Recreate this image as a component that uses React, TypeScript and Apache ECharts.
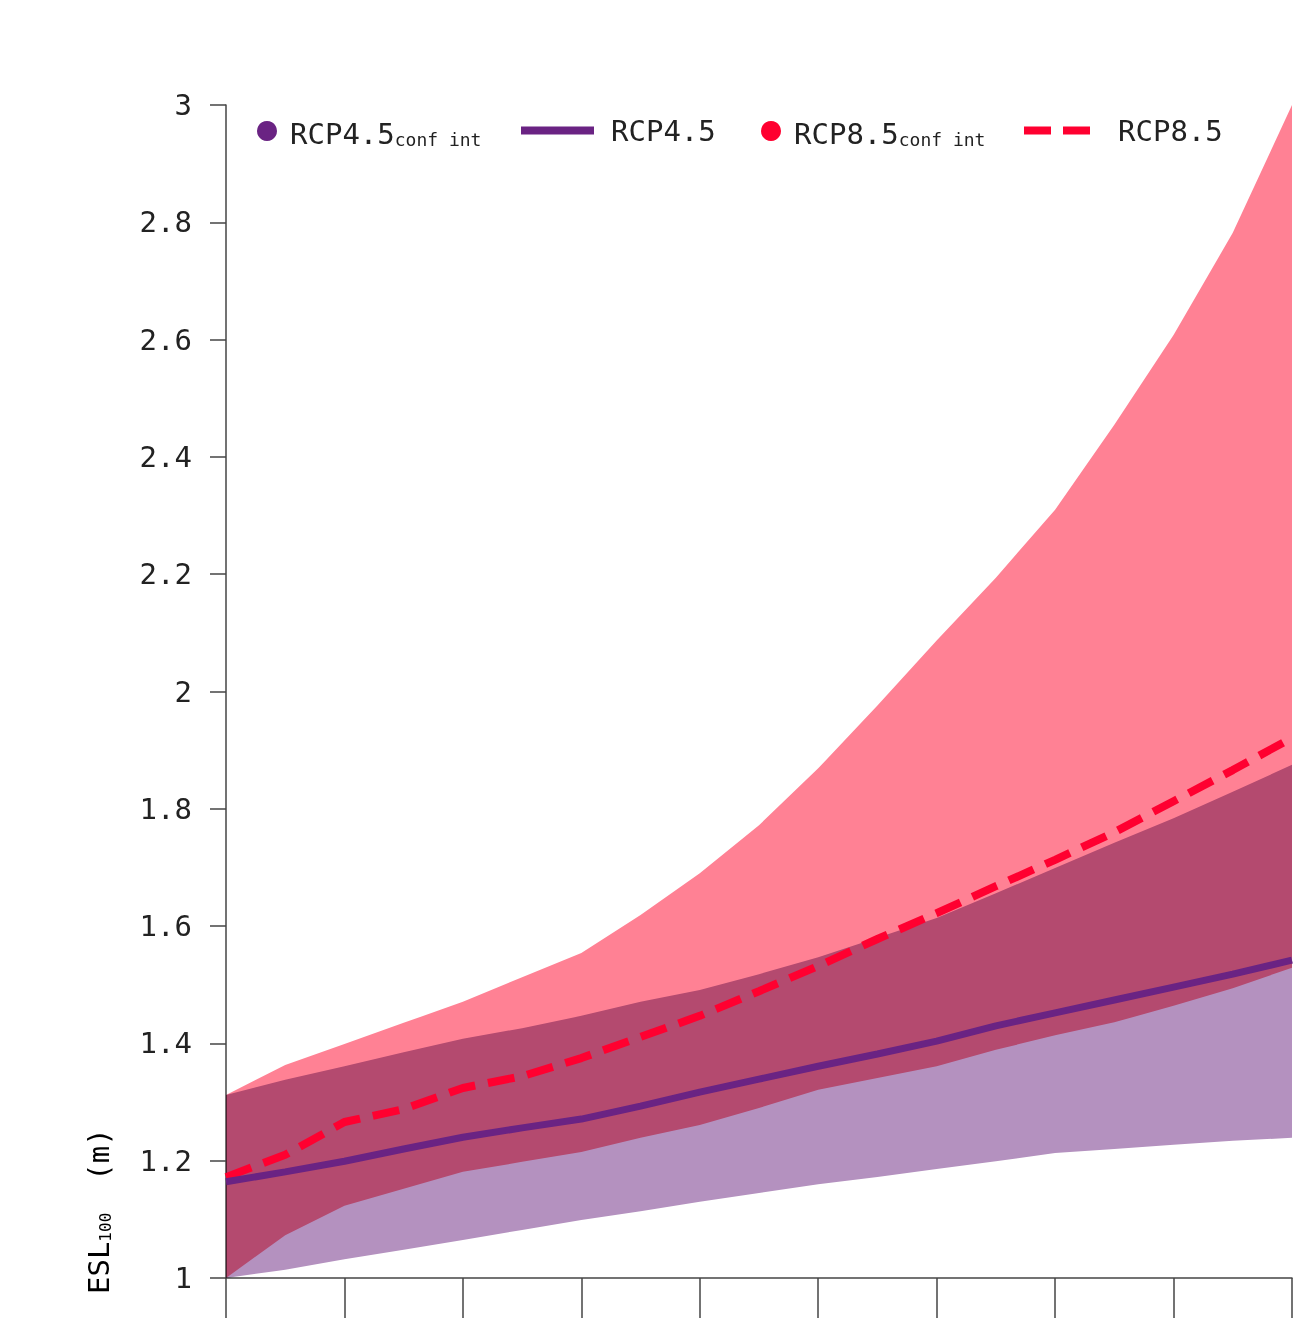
import React, { useEffect, useRef } from "react";
import * as echarts from "echarts";

// ---- data ----
const years = [2010, 2015, 2020, 2025, 2030, 2035, 2040, 2045, 2050, 2055, 2060, 2065, 2070, 2075, 2080, 2085, 2090, 2095, 2100];

const rcp45Lower = [1.0, 1.014, 1.032, 1.048, 1.065, 1.082, 1.099, 1.114, 1.13, 1.145, 1.16, 1.172, 1.186, 1.199, 1.213, 1.22, 1.227, 1.234, 1.239];
const rcp45Upper = [1.312, 1.338, 1.361, 1.385, 1.408, 1.426, 1.447, 1.471, 1.491, 1.518, 1.547, 1.58, 1.614, 1.656, 1.699, 1.742, 1.784, 1.829, 1.875];
const rcp45Mean = [1.164, 1.181, 1.199, 1.22, 1.24, 1.256, 1.271, 1.293, 1.317, 1.339, 1.361, 1.382, 1.404, 1.43, 1.452, 1.474, 1.496, 1.518, 1.542];

const rcp85Lower = [1.0, 1.073, 1.123, 1.152, 1.181, 1.198, 1.215, 1.239, 1.261, 1.29, 1.321, 1.341, 1.361, 1.389, 1.414, 1.436, 1.464, 1.494, 1.529];
const rcp85Upper = [1.312, 1.363, 1.399, 1.435, 1.471, 1.513, 1.554, 1.619, 1.69, 1.772, 1.869, 1.976, 2.087, 2.194, 2.31, 2.455, 2.608, 2.782, 3.0];
const rcp85Mean = [1.172, 1.21, 1.266, 1.288, 1.324, 1.344, 1.375, 1.411, 1.447, 1.489, 1.532, 1.578, 1.622, 1.668, 1.713, 1.76, 1.813, 1.866, 1.921];

const legendNames = ["RCP4.5 conf int", "RCP4.5", "RCP8.5 conf int", "RCP8.5"];

// ---- styling ----
const FONT = "'DejaVu Sans Mono', 'Liberation Mono', monospace";
const TEXT = "#222222";
const AXIS = "#444444";
const PURPLE = "#6A2383";
const RED = "#FF0030";
const PURPLE_BAND = "#B491BF";
const RED_BAND = "#FF8194";

const pair = (ys: number[]) => years.map((x, i) => [x, ys[i]]);
const triple = (lo: number[], hi: number[]) => years.map((x, i) => [x, lo[i], hi[i]]);

const mainRich = {
  a: { fontSize: 29, lineHeight: 34, fontFamily: FONT, color: TEXT, verticalAlign: "bottom", padding: [0, 0, 0, 4] },
  b: { fontSize: 18, lineHeight: 14, fontFamily: FONT, color: TEXT, verticalAlign: "bottom" },
  p: { fontSize: 29, lineHeight: 34, fontFamily: FONT, color: TEXT, padding: [0, 0, 0, 12] },
  q: { fontSize: 29, lineHeight: 34, fontFamily: FONT, color: TEXT, padding: [0, 0, 0, 23] },
};

export default function App() {
  const ref = useRef<HTMLDivElement>(null);

  useEffect(() => {
    if (!ref.current) return;
    const el = ref.current;
    const chart = echarts.init(el, undefined, { renderer: "svg" });

    const bandSeries = (name: string, lo: number[], hi: number[], band: string, color: string) => ({
      name,
      type: "custom",
      data: triple(lo, hi),
      encode: { x: 0, y: [1, 2] },
      itemStyle: { color },
      silent: true,
      clip: false,
      z: 1,
      renderItem: (params: any, api: any) => {
        if (params.dataIndex !== 0) return { type: "group", children: [] };
        const top: number[][] = [];
        const bottom: number[][] = [];
        for (let i = 0; i < years.length; i++) {
          top.push(api.coord([api.value(0, i), api.value(2, i)]));
          bottom.push(api.coord([api.value(0, i), api.value(1, i)]));
        }
        return {
          type: "polygon",
          shape: { points: top.concat(bottom.reverse()) },
          style: { fill: band, stroke: "none" },
        };
      },
    });

    const baseLegend = {
      padding: 0,
      selectedMode: false,
      textStyle: { fontFamily: FONT, fontSize: 29, color: TEXT, rich: mainRich },
    };

    // Bands overlap as multiplied colours (as in the reference).
    const bandRgb = ["rgb(180,145,191)", "rgb(255,129,148)", "#b491bf", "#ff8194"];
    const applyBlend = () => {
      const svg = el.querySelector("svg");
      if (!svg) return;
      svg.querySelectorAll("path, polygon").forEach((p) => {
        const a = (p.getAttribute("fill") || "").replace(/\s/g, "").toLowerCase();
        const c = getComputedStyle(p as Element).fill.replace(/\s/g, "").toLowerCase();
        if (bandRgb.indexOf(a) >= 0 || bandRgb.indexOf(c) >= 0) {
          (p as SVGElement).style.mixBlendMode = "multiply";
          // clip groups isolate blending, so blend the group as well
          let g = p.parentElement;
          while (g && g !== (svg as any)) {
            if (g.getAttribute("clip-path")) (g as any).style.mixBlendMode = "multiply";
            g = g.parentElement;
          }
        }
      });
    };
    chart.on("finished", applyBlend);

    chart.setOption({
      animation: false,
      backgroundColor: "#ffffff",
      grid: { left: 226, right: 12, top: 105, bottom: 58, containLabel: false },
      legend: [
        {
          ...baseLegend,
          left: 257,
          top: 119,
          itemWidth: 28,
          itemHeight: 20,
          data: [{ name: legendNames[0], icon: "circle", itemStyle: { color: PURPLE, borderWidth: 0 } }],
          formatter: "{a|RCP4.5}{b|conf int}",
        },
        {
          ...baseLegend,
          left: 521,
          top: 116,
          itemWidth: 73,
          itemHeight: 8,
          data: [{ name: legendNames[1], icon: "rect", itemStyle: { color: PURPLE, borderWidth: 0 } }],
          formatter: "{p|RCP4.5}",
        },
        {
          ...baseLegend,
          left: 761,
          top: 119,
          itemWidth: 28,
          itemHeight: 20,
          data: [{ name: legendNames[2], icon: "circle", itemStyle: { color: RED, borderWidth: 0 } }],
          formatter: "{a|RCP8.5}{b|conf int}",
        },
        {
          ...baseLegend,
          left: 1024,
          top: 116,
          itemWidth: 66,
          itemHeight: 8,
          data: [
            {
              name: legendNames[3],
              icon: "path://M0,0H27V8H0Z M39,0H66V8H39Z",
              itemStyle: { color: RED, borderWidth: 0 },
            },
          ],
          formatter: "{q|RCP8.5}",
        },
      ],
      xAxis: {
        type: "value",
        min: 2010,
        max: 2100,
        interval: 10,
        axisLine: { show: true, lineStyle: { color: AXIS, width: 1.5 } },
        axisTick: { show: true, length: 40, lineStyle: { color: AXIS, width: 1.5 } },
        axisLabel: { show: false },
        splitLine: { show: false },
      },
      yAxis: {
        type: "value",
        min: 1,
        max: 3,
        interval: 0.2,
        axisLine: { show: true, lineStyle: { color: AXIS, width: 1.5 } },
        axisTick: { show: true, length: 16, lineStyle: { color: AXIS, width: 1.5 } },
        axisLabel: { margin: 34, fontSize: 29, fontFamily: FONT, color: TEXT },
        splitLine: { show: false },
      },
      graphic: [
        {
          type: "text",
          x: 96,
          y: 1294,
          rotation: Math.PI / 2,
          silent: true,
          style: {
            text: "{a|ESL}{b|100}{c|(m)}",
            align: "left",
            verticalAlign: "middle",
            rich: {
              a: { fontSize: 29, lineHeight: 34, fontFamily: FONT, color: TEXT, verticalAlign: "bottom" },
              b: { fontSize: 16, lineHeight: 12, fontFamily: FONT, color: TEXT, verticalAlign: "bottom" },
              c: { fontSize: 29, lineHeight: 34, fontFamily: FONT, color: TEXT, verticalAlign: "bottom", padding: [0, 0, 0, 32] },
            },
          },
        },
      ],
      series: [
        bandSeries(legendNames[0], rcp45Lower, rcp45Upper, PURPLE_BAND, PURPLE),
        bandSeries(legendNames[2], rcp85Lower, rcp85Upper, RED_BAND, RED),
        {
          name: legendNames[3],
          type: "line",
          data: pair(rcp85Mean),
          symbol: "none",
          silent: true,
          itemStyle: { color: RED },
          lineStyle: { color: RED, width: 8, type: [27, 13], cap: "butt" },
          z: 3,
        },
        {
          name: legendNames[1],
          type: "line",
          data: pair(rcp45Mean),
          symbol: "none",
          silent: true,
          itemStyle: { color: PURPLE },
          lineStyle: { color: PURPLE, width: 7 },
          z: 4,
        },
      ],
    });

    applyBlend();
    const t1 = window.setTimeout(applyBlend, 0);
    const t2 = window.setTimeout(applyBlend, 100);

    return () => {
      window.clearTimeout(t1);
      window.clearTimeout(t2);
      chart.dispose();
    };
  }, []);

  return (
    <div
      ref={ref}
      style={{ position: "absolute", left: 0, top: 0, width: 1304, height: 1336 }}
    />
  );
}
